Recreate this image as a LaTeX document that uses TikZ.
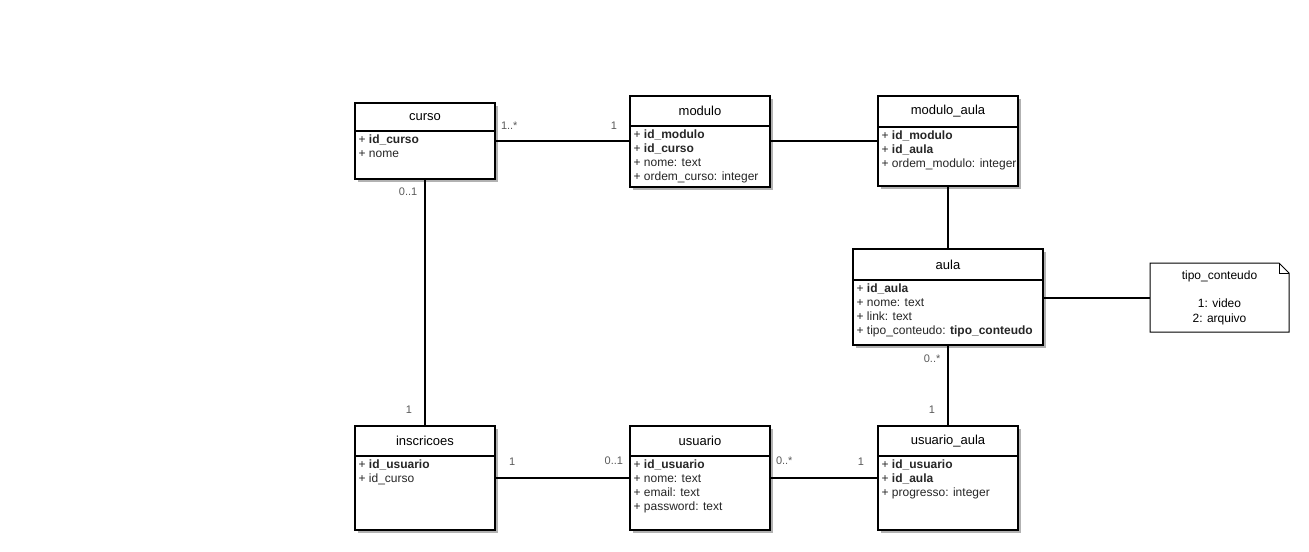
\documentclass[tikz,border=0pt]{standalone}
\usepackage{fontspec}
\setmainfont{Liberation Sans}
\usetikzlibrary{positioning,shadows}

\begin{document}
\begin{tikzpicture}[x=0.75pt,y=-0.75pt,
  font=\fontsize{9}{10.5}\selectfont,
  shade/.style={drop shadow={shadow xshift=2.25pt,shadow yshift=-2.25pt,fill=black!30,opacity=1}},
  hdr/.style={draw,fill=white,line width=1.5pt,anchor=north,minimum width=105pt,inner sep=0pt,outer sep=0pt,
    font=\fontsize{9.75}{11}\selectfont,shade},
  body/.style={draw,fill=white,line width=1.5pt,minimum width=105pt,inner sep=0pt,outer sep=0pt,shade},
  attr/.style={anchor=north west,align=left,inner sep=0pt,xshift=2.5pt,yshift=-2.5pt,text=black!85},
  conn/.style={line width=1.5pt},
  mult/.style={font=\fontsize{8.25}{10}\selectfont,text=black!65,inner sep=0pt},
  note/.style={minimum width=104.25pt,minimum height=51.75pt,align=center,inner sep=0pt,outer sep=0pt,
    font=\fontsize{9}{11.25}\selectfont}]
\useasboundingbox (0,0) rectangle (1309,551);

% top row
\node[hdr,minimum height=21pt] (curso) at (425,103) {curso};
\node[body,minimum height=36pt,below=0pt of curso] (curso-b) {};
\node[attr] at (curso-b.north west) {+ \textbf{id\_curso}\\+ nome};

\node[hdr,minimum height=22.5pt] (modulo) at (700,96) {modulo};
\node[body,minimum height=45.75pt,below=0pt of modulo] (modulo-b) {};
\node[attr] at (modulo-b.north west) {+ \textbf{id\_modulo}\\+ \textbf{id\_curso}\\+ nome: text\\+ ordem\_curso: integer};

\node[hdr,minimum height=23.25pt] (modulo_aula) at (948,96) {modulo\_aula};
\node[body,minimum height=44.25pt,below=0pt of modulo_aula] (modulo_aula-b) {};
\node[attr] at (modulo_aula-b.north west) {+ \textbf{id\_modulo}\\+ \textbf{id\_aula}\\+ ordem\_modulo: integer};

% aula and note
\node[hdr,minimum width=142.5pt,minimum height=23.25pt] (aula) at (948,249) {aula};
\node[body,minimum width=142.5pt,minimum height=48.75pt,below=0pt of aula] (aula-b) {};
\node[attr] at (aula-b.north west) {+ \textbf{id\_aula}\\+ nome: text\\+ link: text\\+ tipo\_conteudo: \textbf{tipo\_conteudo}};

\node[note] (tipo) at (1219.5,297.5) {tipo\_conteudo\\[9.75pt]1: video\\2: arquivo};
\draw[line width=0.75pt] (tipo.north west) -- ([xshift=-7.5pt]tipo.north east) -- ([yshift=-7.5pt]tipo.north east)
  -- (tipo.south east) -- (tipo.south west) -- cycle;
\draw[line width=0.75pt] ([xshift=-7.5pt]tipo.north east) -- ([xshift=-7.5pt,yshift=-7.5pt]tipo.north east) -- ([yshift=-7.5pt]tipo.north east);

% bottom row
\node[hdr,minimum height=22.5pt] (inscricoes) at (425,426) {inscricoes};
\node[body,minimum height=55.5pt,below=0pt of inscricoes] (inscricoes-b) {};
\node[attr] at (inscricoes-b.north west) {+ \textbf{id\_usuario}\\+ id\_curso};

\node[hdr,minimum height=22.5pt] (usuario) at (700,426) {usuario};
\node[body,minimum height=55.5pt,below=0pt of usuario] (usuario-b) {};
\node[attr] at (usuario-b.north west) {+ \textbf{id\_usuario}\\+ nome: text\\+ email: text\\+ password: text};

\node[hdr,minimum height=22.5pt] (usuario_aula) at (948,426) {usuario\_aula};
\node[body,minimum height=55.5pt,below=0pt of usuario_aula] (usuario_aula-b) {};
\node[attr] at (usuario_aula-b.north west) {+ \textbf{id\_usuario}\\+ \textbf{id\_aula}\\+ progresso: integer};

% connectors
\draw[conn] ([yshift=-7.5pt]curso-b.north east) --
  node[mult,pos=0,anchor=south west,xshift=3.75pt,yshift=8pt]{1..*}
  node[mult,pos=1,anchor=south east,xshift=-9pt,yshift=8pt]{1}
  ([yshift=-7.5pt]curso-b.north east -| modulo-b.west);
\draw[conn] ([yshift=-7.5pt]curso-b.north east -| modulo-b.east) -- ([yshift=-7.5pt]curso-b.north east -| modulo_aula-b.west);
\draw[conn] (modulo_aula-b.south) -- (aula.north);
\draw[conn] (aula-b.east |- tipo.west) -- (tipo.west);
\draw[conn] (curso-b.south) --
  node[mult,pos=0,anchor=north east,xshift=-5pt,yshift=-6pt]{0..1}
  node[mult,pos=1,anchor=south east,xshift=-9pt,yshift=9pt]{1}
  (inscricoes.north);
\draw[conn] ([yshift=-16.5pt]inscricoes-b.north east) --
  node[mult,pos=0,anchor=south west,xshift=9.75pt,yshift=9pt]{1}
  node[mult,pos=1,anchor=south east,xshift=-4.5pt,yshift=9pt]{0..1}
  ([yshift=-16.5pt]inscricoes-b.north east -| usuario-b.west);
\draw[conn] ([yshift=-16.5pt]usuario-b.north east) --
  node[mult,pos=0,anchor=south west,xshift=3.75pt,yshift=9pt]{0..*}
  node[mult,pos=1,anchor=south east,xshift=-9.75pt,yshift=9pt]{1}
  ([yshift=-16.5pt]usuario-b.north east -| usuario_aula-b.west);
\draw[conn] (aula-b.south) --
  node[mult,pos=0,anchor=north east,xshift=-5pt,yshift=-6.75pt]{0..*}
  node[mult,pos=1,anchor=south east,xshift=-9pt,yshift=9pt]{1}
  (usuario_aula.north);
\end{tikzpicture}
\end{document}
